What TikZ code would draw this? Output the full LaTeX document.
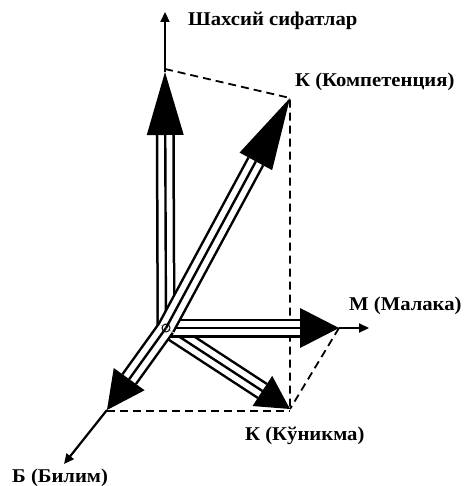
\documentclass[tikz,border=0pt]{standalone}
\usepackage{fontspec}
\setmainfont{Liberation Serif}[FakeStretch=1.06]
\usetikzlibrary{calc,arrows.meta}
\newcommand\myarrow[3]{%
  \coordinate (#1b) at ($(#1)!#2!(O)$);
  \draw[triple] (O) -- (#1b);
  \fill ($(#1b)!#3!90:(#1)$) -- (#1) -- ($(#1b)!#3!-90:(#1)$) -- cycle;
}
\begin{document}
\begin{tikzpicture}[x=1pt,y=-1pt,
  triple/.style={line width=19pt,black,
    postaction={draw,white,line width=14pt},
    postaction={draw,black,line width=2.4pt}},
  axisline/.style={line width=2.2pt,-{Triangle[length=10pt,width=9pt]}},
  dashline/.style={line width=1.8pt,dash pattern=on 8pt off 5pt},
  lbl/.style={font=\fontsize{19.5}{22}\selectfont\bfseries,inner sep=0pt,anchor=base west}]
\useasboundingbox (0,0) rectangle (464,486);
\fill[white] (0,0) rectangle (464,486);
\coordinate (O) at (166,328);
\coordinate (V) at (165,72);
\coordinate (Kc) at (290,98);
\coordinate (M) at (339,328);
\coordinate (Ku) at (290,409);
\coordinate (B) at (107,410);
\coordinate (Vend) at (165,12);
\coordinate (Mend) at (369,328);
\coordinate (Bend) at (64,464);
\coordinate (Vd) at (165,69);
\coordinate (Bd) at (107,411);
\coordinate (Kud) at (290,411);
% dashed frame
\draw[dashline] (Vd) -- (Kc) -- (Ku);
\draw[dashline] (M) -- (Ku);
\draw[dashline] (Bd) -- (Kud);
% big arrows
\myarrow{Ku}{33pt}{18pt}
\myarrow{M}{39pt}{20pt}
\myarrow{V}{63pt}{18.5pt}
\myarrow{B}{38pt}{19pt}
\myarrow{Kc}{72pt}{18.5pt}
% thin axes
\draw[axisline] (V) -- (Vend);
\draw[axisline] (M) -- (Mend);
\draw[axisline] (B) -- (Bend);
\draw[line width=1pt] (O) circle (4pt);
% labels
\node[lbl] (sh) at (188,26) {Шахсий сифатлар};
\node[lbl] (kc) at (295,87) {К (Компетенция)};
\node[lbl] (m) at (349,310) {М (Малака)};
\node[lbl] (ku) at (245,440) {К (Кўникма)};
\node[lbl] (b) at (12,482) {Б (Билим)};
\end{tikzpicture}
\end{document}
